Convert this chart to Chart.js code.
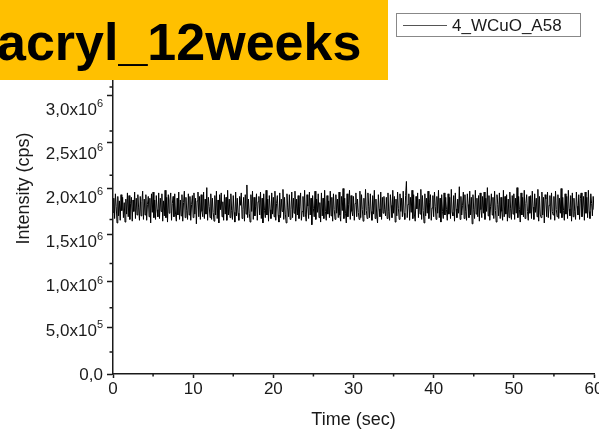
<!DOCTYPE html>
<html lang="en">
<head>
<meta charset="UTF-8" />
<title>acryl_12weeks</title>
<style>
  body { margin: 0; background: #fff; }
  #wrap { width: 599px; height: 431px; }
</style>
</head>
<body>
<div id="wrap"><canvas id="chart" width="599" height="431"></canvas></div>

<script src="https://cdn.jsdelivr.net/npm/chart.js"></script>
<script>
  const titleText = 'acryl_12weeks';
  const seriesLabel = '4_WCuO_A58';

  // sampling interval of the trace (sec)
  const sampleInterval = 0.1;

  // intensity, in units of 10^4 cps, one reading every 0.1 s from 0 to 60 s
  const intensity = [
    183,199,176,204,190,171,201,179,196,174,203,185,200,177,194,172,198,181,205,178,
    202,175,193,200,173,197,184,206,176,199,180,203,188,174,201,179,195,207,175,198,
    180,203,174,192,201,178,199,171,204,183,206,177,197,175,202,186,178,205,176,199,
    184,204,173,196,179,208,177,200,172,203,182,197,205,174,193,201,178,204,181,173,
    199,180,206,175,197,179,203,173,194,207,177,200,185,175,204,180,201,174,192,202,
    177,205,181,199,170,196,206,178,201,175,203,184,178,206,176,198,181,211,174,200,
    190,177,204,175,199,183,173,202,180,207,176,197,171,203,186,205,178,195,174,203,
    181,200,174,208,180,198,177,204,185,175,202,183,172,206,179,199,182,174,201,191,
    205,176,186,200,173,203,181,214,177,198,182,172,203,184,207,175,200,179,190,204,
    174,195,201,180,206,176,199,171,204,185,177,208,180,198,173,202,186,176,205,181,
    200,178,207,174,193,202,180,172,205,177,198,184,209,175,200,181,171,204,188,178,
    203,175,186,206,177,199,182,207,173,198,180,202,176,190,205,174,184,201,178,208,
    181,173,203,190,176,206,180,199,169,202,187,178,207,175,198,183,204,177,194,172,
    205,179,199,176,208,184,174,202,181,196,177,207,179,200,173,204,186,175,203,182,
    198,177,206,180,173,201,185,210,176,199,182,171,204,178,192,208,175,202,184,179,
    201,174,193,205,178,198,183,175,207,177,203,186,173,199,180,209,185,176,205,190,
    177,204,184,174,202,181,208,176,198,180,171,203,187,178,206,175,200,182,201,186,
    179,200,176,205,184,174,203,191,177,208,182,201,172,198,179,206,187,175,204,184,
    199,178,207,182,175,202,218,177,192,204,174,200,183,208,176,203,180,173,201,187,
    205,177,198,181,209,175,202,185,171,204,179,199,182,207,176,194,203,174,188,202,
    178,206,190,175,201,182,208,177,199,172,203,184,176,205,180,200,186,174,204,181,
    200,176,209,183,179,202,173,205,187,177,198,182,212,175,201,180,191,206,176,203,
    184,174,204,192,177,207,180,200,170,203,186,176,208,181,199,178,202,173,205,186,
    177,201,182,206,175,199,184,211,179,202,174,190,204,180,200,176,207,185,172,203,
    192,179,205,176,200,184,174,208,178,201,181,203,173,198,177,206,187,175,202,181,
    204,175,199,182,211,177,201,186,172,205,180,200,178,208,176,193,203,184,174,201,
    182,202,176,207,189,175,204,183,199,178,209,173,201,181,177,206,180,200,171,203,
    198,178,206,177,191,202,175,205,184,180,201,174,207,186,178,203,176,199,182,210,
    177,200,185,174,204,181,201,176,208,187,179,202,173,205,178,199,184,175,206,190,
    180,203,175,199,205,178,189,201,174,206,182,200,177,208,184,176,204,193,179,201,
    186
  ];

  // y tick labels: [mantissa, exponent]
  const yTickValues = [0, 5e5, 1e6, 1.5e6, 2e6, 2.5e6, 3e6];
  const yTickLabels = [
    ['0,0', ''], ['5,0x10', '5'], ['1,0x10', '6'], ['1,5x10', '6'],
    ['2,0x10', '6'], ['2,5x10', '6'], ['3,0x10', '6']
  ];
  const xMinorTicks = [5, 15, 25, 35, 45, 55];
  const yMinorTicks = [2.5e5, 7.5e5, 1.25e6, 1.75e6, 2.25e6, 2.75e6, 3.25e6];

  const FONT = '"Liberation Sans", Arial, sans-serif';
  const INK = '#1a1a1a';

  const points = intensity.map((v, i) => ({ x: i * sampleInterval, y: v * 1e4 }));

  // minor ticks, y tick labels with superscripts, title banner and legend box
  const overlay = {
    id: 'overlay',
    afterDraw(chart) {
      const ctx = chart.ctx;
      const xs = chart.scales.x, ys = chart.scales.y;
      const area = chart.chartArea;
      ctx.save();

      ctx.strokeStyle = INK;
      ctx.lineWidth = 1.5;
      ctx.beginPath();
      xMinorTicks.forEach(v => {
        const px = xs.getPixelForValue(v);
        ctx.moveTo(px, area.bottom);
        ctx.lineTo(px, area.bottom + 2.5);
      });
      yMinorTicks.forEach(v => {
        const py = ys.getPixelForValue(v);
        ctx.moveTo(area.left, py);
        ctx.lineTo(area.left - 3.5, py);
      });
      ctx.stroke();

      ctx.fillStyle = INK;
      ctx.textAlign = 'left';
      ctx.textBaseline = 'middle';
      const right = area.left - 10;
      yTickValues.forEach((v, i) => {
        const py = ys.getPixelForValue(v);
        const [base, exp] = yTickLabels[i];
        ctx.font = '17px ' + FONT;
        const w1 = ctx.measureText(base).width;
        ctx.font = '11px ' + FONT;
        const w2 = exp ? ctx.measureText(exp).width : 0;
        ctx.font = '17px ' + FONT;
        ctx.fillText(base, right - w2 - w1, py + 1);
        if (exp) {
          ctx.font = '11px ' + FONT;
          ctx.fillText(exp, right - w2, py - 5);
        }
      });

      // title banner
      ctx.fillStyle = '#FFC000';
      ctx.fillRect(0, 0, 388, 80);
      ctx.fillStyle = '#000';
      ctx.font = 'bold 52px ' + FONT;
      ctx.textBaseline = 'alphabetic';
      ctx.fillText(titleText, -3, 60);

      // legend
      ctx.fillStyle = '#fff';
      ctx.fillRect(396.5, 13.5, 184, 23);
      ctx.strokeStyle = '#888';
      ctx.lineWidth = 1;
      ctx.strokeRect(396.5, 13.5, 184, 23);
      ctx.strokeStyle = '#555';
      ctx.beginPath();
      ctx.moveTo(403, 25.5);
      ctx.lineTo(447, 25.5);
      ctx.stroke();
      ctx.fillStyle = INK;
      ctx.font = '17px ' + FONT;
      ctx.textBaseline = 'middle';
      ctx.fillText(chart.data.datasets[0].label, 452, 26);

      ctx.restore();
    }
  };

  new Chart(document.getElementById('chart'), {
    type: 'line',
    data: {
      datasets: [{
        label: seriesLabel,
        data: points,
        borderColor: '#000',
        borderWidth: 1,
        pointRadius: 0,
        tension: 0,
        fill: false
      }]
    },
    options: {
      responsive: false,
      animation: false,
      devicePixelRatio: 1,
      layout: { padding: { top: 3, right: 5, left: 0, bottom: 0 } },
      plugins: { legend: { display: false }, tooltip: { enabled: false } },
      scales: {
        x: {
          type: 'linear',
          min: 0,
          max: 60,
          ticks: { stepSize: 10, color: INK, font: { size: 17, family: FONT }, padding: 1, maxRotation: 0 },
          grid: { drawOnChartArea: false, tickLength: 4, color: INK, tickWidth: 1.5 },
          border: { color: INK, width: 1.5 },
          title: { display: true, text: 'Time (sec)', color: INK, font: { size: 18, family: FONT }, padding: { top: 0, bottom: 0 } },
          afterFit: s => { s.height = 57; s.paddingLeft = 0; s.paddingRight = 0; }
        },
        y: {
          min: 0,
          max: 4.2e6,
          ticks: { stepSize: 5e5, callback: () => '' },
          grid: { drawOnChartArea: false, tickLength: 6, color: INK, tickWidth: 1.5 },
          border: { color: INK, width: 1.5 },
          title: { display: true, text: 'Intensity (cps)', color: INK, font: { size: 18, family: FONT }, padding: { top: 13, bottom: 0 } },
          afterFit: s => { s.width = 113; s.paddingTop = 0; s.paddingBottom = 0; }
        }
      }
    },
    plugins: [overlay]
  });
</script>
</body>
</html>
